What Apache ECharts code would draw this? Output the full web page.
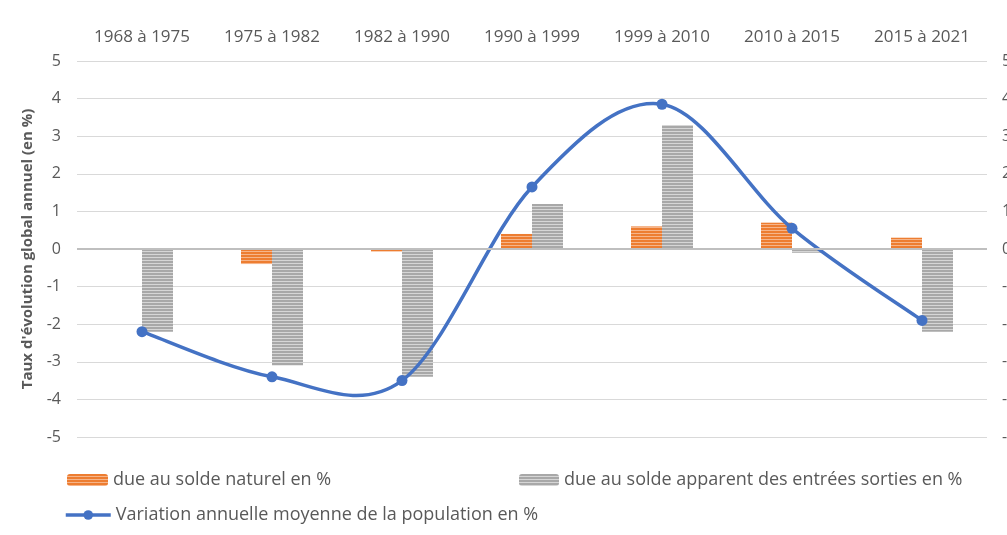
<!DOCTYPE html>
<html><head><meta charset="utf-8">
<script src="https://cdn.jsdelivr.net/npm/echarts@6/dist/echarts.min.js"></script>
<style>html,body{margin:0;padding:0;background:#fff}#c{width:1007px;height:535px}</style>
</head><body><div id="c"></div>
<script>
const categories = ['1968 à 1975','1975 à 1982','1982 à 1990','1990 à 1999','1999 à 2010','2010 à 2015','2015 à 2021'];
const soldeNaturel = [0, -0.4, -0.07, 0.4, 0.6, 0.7, 0.3];
const soldeApparent = [-2.2, -3.1, -3.4, 1.2, 3.3, -0.1, -2.2];
const variation = [-2.2, -3.4, -3.5, 1.65, 3.85, 0.55, -1.9];
const yTicks = [-5,-4,-3,-2,-1,0,1,2,3,4,5];

function stripe(c1, c2){
  const cv = document.createElement('canvas');
  cv.width = 4; cv.height = 3;
  const ctx = cv.getContext('2d');
  ctx.fillStyle = c1; ctx.fillRect(0,0,4,2);
  ctx.fillStyle = c2; ctx.fillRect(0,2,4,1);
  return {image: cv, repeat: 'repeat'};
}
const orangeFill = stripe('#ED7D31', '#F6B58A');
const grayFill = stripe('#A8A8A8', '#D6D6D6');
const blue = '#4472C4';

// Excel-like smoothed curve through the data points (Catmull-Rom as cubic Bezier)
function smoothPath(pts){
  let d = 'M' + pts[0][0] + ' ' + pts[0][1];
  for (let i = 0; i < pts.length - 1; i++){
    const p0 = pts[Math.max(0, i - 1)], p1 = pts[i], p2 = pts[i + 1], p3 = pts[Math.min(pts.length - 1, i + 2)];
    const c1 = [p1[0] + (p2[0] - p0[0]) / 6, p1[1] + (p2[1] - p0[1]) / 6];
    const c2 = [p2[0] - (p3[0] - p1[0]) / 6, p2[1] - (p3[1] - p1[1]) / 6];
    d += ' C' + c1[0] + ' ' + c1[1] + ' ' + c2[0] + ' ' + c2[1] + ' ' + p2[0] + ' ' + p2[1];
  }
  return d;
}

const txt = '#595959';
const font = 'Open Sans';
const chart = echarts.init(document.getElementById('c'));
chart.setOption({
  animation: false,
  textStyle: {fontFamily: font},
  grid: {left: 77, right: 20, top: 61, bottom: 98, outerBoundsMode: 'none', containLabel: false},
  legend: [
    {data: ['due au solde naturel en %'], left: 62, top: 466, itemWidth: 41, itemHeight: 12,
     textStyle: {color: txt, fontSize: 18, fontFamily: font}},
    {data: ['due au solde apparent des entrées sorties en %'], left: 514, top: 466, itemWidth: 40, itemHeight: 12,
     textStyle: {color: txt, fontSize: 18, fontFamily: font}},
    {data: ['Variation annuelle moyenne de la population en %'], left: 59, top: 501, itemWidth: 45, itemHeight: 12,
     lineStyle: {opacity: 1, width: 3.5, color: blue},
     textStyle: {color: txt, fontSize: 18, fontFamily: font}}
  ],
  xAxis: {
    type: 'category', data: categories, position: 'top',
    axisLine: {show: false}, axisTick: {show: false},
    axisLabel: {color: txt, fontSize: 17, margin: 15, fontFamily: font}
  },
  yAxis: [
    {type: 'value', min: -5, max: 5, interval: 1,
     name: "Taux d'évolution global annuel (en %)", nameLocation: 'middle', nameGap: 42, nameRotate: 90,
     nameTextStyle: {color: txt, fontSize: 15, fontWeight: 'bold', fontFamily: font},
     axisLabel: {color: txt, fontSize: 16, margin: 16, fontFamily: font},
     splitLine: {lineStyle: {color: '#d9d9d9', width: 1}},
     axisLine: {show: false}, axisTick: {show: false}},
    {type: 'value', min: -5, max: 5, interval: 1, position: 'right',
     axisLabel: {color: txt, fontSize: 16, margin: 15, fontFamily: font},
     splitLine: {show: false}, axisLine: {show: false}, axisTick: {show: false}}
  ],
  series: [
    {name: 'due au solde naturel en %', type: 'bar', data: soldeNaturel, barWidth: 31, barGap: '0%',
     itemStyle: {color: orangeFill}},
    {name: 'due au solde apparent des entrées sorties en %', type: 'bar', data: soldeApparent, barWidth: 31, barGap: '0%',
     itemStyle: {color: grayFill},
     markLine: {silent: true, symbol: 'none', label: {show: false},
       lineStyle: {color: '#bfbfbf', width: 2, type: 'solid'}, data: [{yAxis: 0}]}},
    {name: 'curve', type: 'custom', data: variation, z: 4, silent: true,
     renderItem: function(params, api){
       if (params.dataIndex !== 0) return null;
       const pts = variation.map((v, i) => api.coord([i, v]));
       return {type: 'path', shape: {pathData: smoothPath(pts)},
               style: {fill: 'none', stroke: blue, lineWidth: 3.5, lineJoin: 'round', lineCap: 'round'}};
     }},
    {name: 'Variation annuelle moyenne de la population en %', type: 'line', data: variation,
     symbol: 'circle', symbolSize: 11, z: 5,
     lineStyle: {color: blue, width: 3.5, opacity: 0}, itemStyle: {color: blue}}
  ]
});
</script></body></html>
